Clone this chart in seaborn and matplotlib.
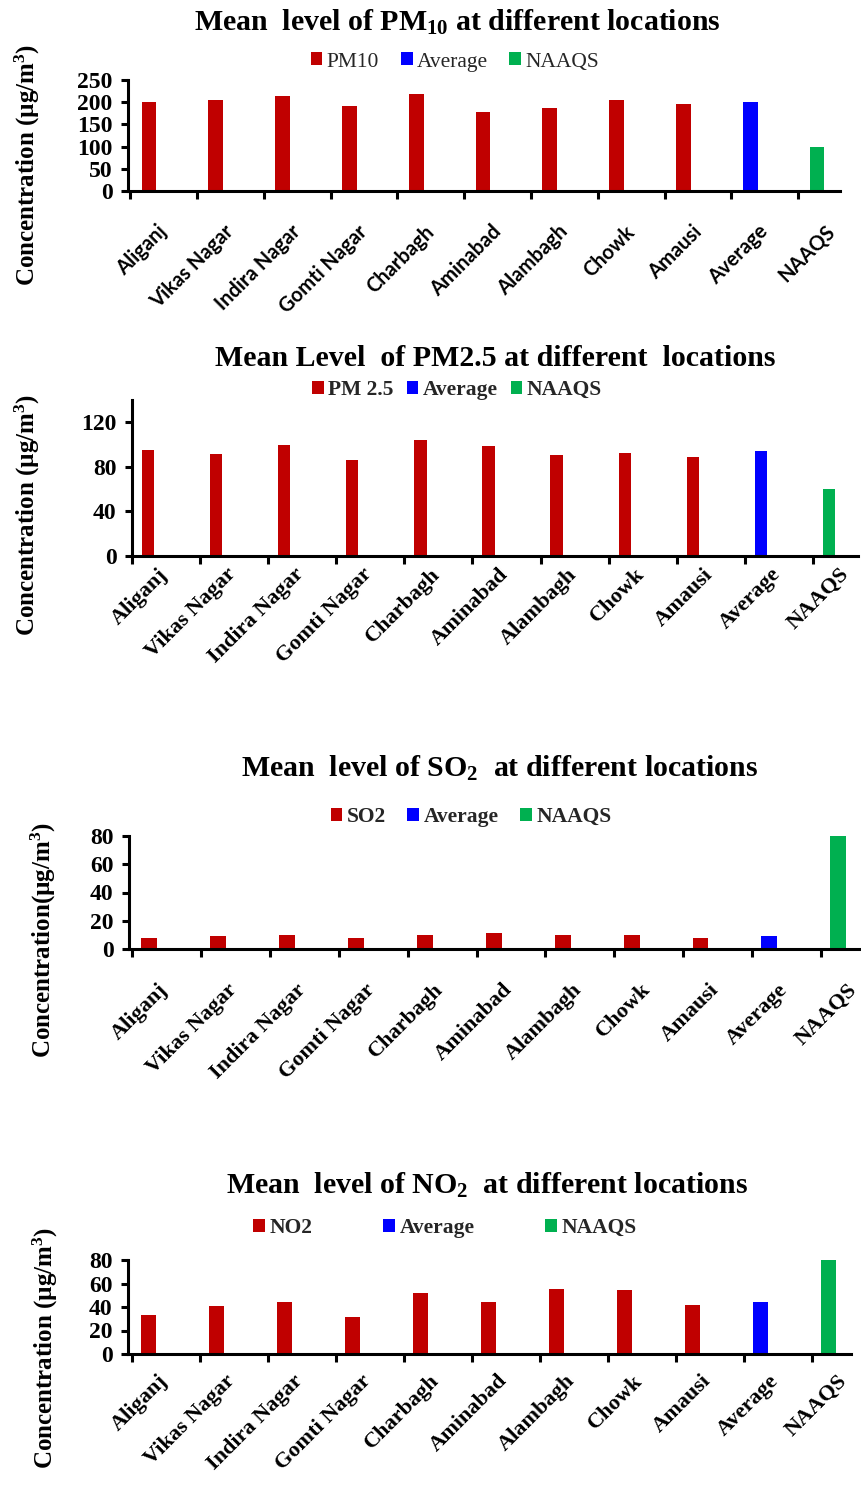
import numpy as np
import pandas as pd
import matplotlib
matplotlib.use("Agg")
import matplotlib.pyplot as plt
import seaborn as sns
from matplotlib.patches import Patch

# ---------------- data ----------------
locations = ["Aliganj", "Vikas Nagar", "Indira Nagar", "Gomti Nagar", "Charbagh",
             "Aminabad", "Alambagh", "Chowk", "Amausi", "Average", "NAAQS"]
kinds = ["site"] * 9 + ["Average", "NAAQS"]

pm10 = [200, 205, 214, 192, 218, 177, 187, 205, 197, 200, 100]
pm25 = [95.5, 91.5, 99.5, 86.5, 104.5, 98.5, 90.5, 92.5, 88.5, 94.5, 60]
so2 = [8, 9, 10, 8, 10, 11, 10, 10, 8, 9, 80]
no2 = [33, 40.5, 44.5, 31.5, 51.5, 44.5, 55.5, 54.5, 41.5, 44.5, 80]

titles = [r"Mean  level of PM$_{\mathbf{10}}$ at different locations",
          "Mean Level  of PM2.5 at different  locations",
          r"Mean  level of SO$_{\mathbf{2}}$  at different locations",
          r"Mean  level of NO$_{\mathbf{2}}$  at different locations"]
legend_labels = [["PM10", "Average", "NAAQS"],
                 ["PM 2.5", "Average", "NAAQS"],
                 ["SO2", "Average", "NAAQS"],
                 ["NO2", "Average", "NAAQS"]]
ylabels = [r"Concentration (µg/m$^{\mathbf{3}}$)",
           r"Concentration (µg/m$^{\mathbf{3}}$)",
           r"Concentration(µg/m$^{\mathbf{3}}$)",
           r"Concentration (µg/m$^{\mathbf{3}}$)"]
yticks_list = [[0, 50, 100, 150, 200, 250], [0, 40, 80, 120], [0, 20, 40, 60, 80], [0, 20, 40, 60, 80]]
ylims = [250, 140, 80, 80]

colors = {"site": "#C00000", "Average": "#0000FF", "NAAQS": "#00B050"}

# ---------------- style ----------------
sns.set_theme(style="white")
plt.rcParams["font.family"] = ["Liberation Serif", "DejaVu Serif"]
plt.rcParams["mathtext.fontset"] = "custom"
plt.rcParams["mathtext.rm"] = "Liberation Serif:bold"
plt.rcParams["mathtext.bf"] = "Liberation Serif:bold"
plt.rcParams["mathtext.it"] = "Liberation Serif:bold"

W, H = 861, 1489
fig = plt.figure(figsize=(W / 100, H / 100), dpi=100)

layouts = [
    dict(l=128, r=840, b=191, t=80, sp=66.8, c0=149, tick0=-0.28, width=0.22, lab_off=0.33,
         lab_pad=22, title_xy=(457, 22), leg_xy=(455, 62), leg_weight="normal", leg_cs=1.0,
         ylab_xy=(27, 165), xfont=("Lato", "bold", 14.5), title_fs=21.5),
    dict(l=132, r=858, b=556, t=400, sp=68.1, c0=148, tick0=-0.235, width=0.18, lab_off=0.35,
         lab_pad=6, title_xy=(495, 358), leg_xy=(457, 390), leg_weight="bold", leg_cs=0.6,
         ylab_xy=(27, 515), xfont=("Liberation Serif", "bold", 16), title_fs=21.5),
    dict(l=129, r=861, b=949, t=836, sp=69.3, c0=149.5, tick0=-0.25, width=0.23, lab_off=0.33,
         lab_pad=22, title_xy=(500, 768), leg_xy=(471, 817), leg_weight="bold", leg_cs=1.0,
         ylab_xy=(43, 940), xfont=("Liberation Serif", "bold", 16), title_fs=21.5),
    dict(l=128, r=851, b=1354, t=1260, sp=68.3, c0=149, tick0=-0.25, width=0.22, lab_off=0.33,
         lab_pad=12, title_xy=(487, 1185), leg_xy=(445, 1228), leg_weight="bold", leg_cs=3.3,
         ylab_xy=(45, 1348), xfont=("Liberation Serif", "bold", 16), title_fs=21.5),
]

all_values = [pm10, pm25, so2, no2]

for i, (vals, L) in enumerate(zip(all_values, layouts)):
    ax = fig.add_axes([L["l"] / W, 1 - L["b"] / H, (L["r"] - L["l"]) / W, (L["b"] - L["t"]) / H])
    df = pd.DataFrame({"loc": locations, "val": vals, "kind": kinds})
    sns.barplot(data=df, x="loc", y="val", hue="kind", palette=colors, dodge=False,
                width=L["width"], ax=ax, legend=False, saturation=1, linewidth=0)
    n = len(locations)
    xl = (L["l"] - L["c0"]) / L["sp"]
    xr = (L["r"] - L["c0"]) / L["sp"]
    ax.set_xlim(xl, xr)
    ax.set_ylim(0, ylims[i])
    ax.set_xticks(np.arange(n) + L["tick0"], labels=[""] * n)
    ax.set_xticks(np.arange(n) + L["lab_off"], labels=locations, minor=True)
    fam, wt, fs = L["xfont"]
    ax.tick_params(axis="x", which="major", direction="out", length=6, width=2.2, color="black", bottom=True)
    ax.tick_params(axis="x", which="minor", length=0, pad=L["lab_pad"], bottom=True)
    for lab in ax.get_xticklabels(minor=True):
        lab.set_rotation(45)
        lab.set_ha("right")
        lab.set_va("top")
        lab.set_fontfamily([fam, "DejaVu Sans"])
        lab.set_fontweight(wt)
        lab.set_fontsize(fs)
        lab.set_color("black")
    ax.set_yticks(yticks_list[i])
    ax.tick_params(axis="y", direction="out", length=5, width=2.2, color="black", left=True,
                   labelsize=17, pad=6)
    for lab in ax.get_yticklabels():
        lab.set_fontweight("bold")
        lab.set_color("black")
    for s in ["top", "right"]:
        ax.spines[s].set_visible(False)
    for s in ["left", "bottom"]:
        ax.spines[s].set_color("black")
        ax.spines[s].set_linewidth(2.2)
    ax.set_xlabel("")
    ax.set_ylabel(ylabels[i], fontsize=18, fontweight="bold", color="black")
    ax.yaxis.set_label_coords(L["ylab_xy"][0] / W, 1 - L["ylab_xy"][1] / H, transform=fig.transFigure)
    ax.yaxis.label.set_va("center")
    ax.grid(False)

    fig.text(L["title_xy"][0] / W, 1 - L["title_xy"][1] / H, titles[i], ha="center", va="center",
             fontsize=L["title_fs"], fontweight="bold", color="black")
    handles = [Patch(facecolor=colors[k], edgecolor="none", label=lab)
               for k, lab in zip(["site", "Average", "NAAQS"], legend_labels[i])]
    fig.legend(handles=handles, loc="center", bbox_to_anchor=(L["leg_xy"][0] / W, 1 - L["leg_xy"][1] / H),
               ncol=3, frameon=False, handlelength=0.55, handleheight=0.55, handletextpad=0.2,
               columnspacing=L["leg_cs"], prop={"family": "Liberation Serif", "size": 15.5,
                                                 "weight": L["leg_weight"]}, borderaxespad=0, borderpad=0)

fig.savefig("out.png", dpi=100, facecolor="white")
